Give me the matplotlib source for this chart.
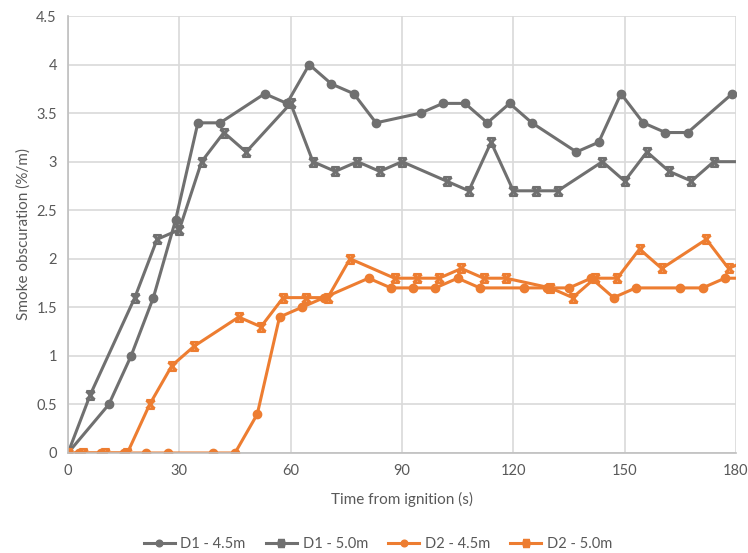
import matplotlib
matplotlib.use("Agg")
import matplotlib.pyplot as plt
from matplotlib.path import Path

plt.rcParams['font.family'] = ['Lato', 'DejaVu Sans']

# Data
t_d1_45 = [0, 11, 17, 23, 29, 35, 41, 53, 59, 65, 71, 77, 83, 95, 101, 107, 113, 119, 125, 137, 143, 149, 155, 161, 167, 179]
v_d1_45 = [0, 0.5, 1.0, 1.6, 2.4, 3.4, 3.4, 3.7, 3.6, 4.0, 3.8, 3.7, 3.4, 3.5, 3.6, 3.6, 3.4, 3.6, 3.4, 3.1, 3.2, 3.7, 3.4, 3.3, 3.3, 3.7]

t_d1_50 = [0, 6, 18, 24, 30, 36, 42, 48, 60, 66, 72, 78, 84, 90, 102, 108, 114, 120, 126, 132, 144, 150, 156, 162, 168, 174, 186]
v_d1_50 = [0, 0.6, 1.6, 2.2, 2.3, 3.0, 3.3, 3.1, 3.6, 3.0, 2.9, 3.0, 2.9, 3.0, 2.8, 2.7, 3.2, 2.7, 2.7, 2.7, 3.0, 2.8, 3.1, 2.9, 2.8, 3.0, 3.0]

t_d2_45 = [0, 3, 9, 15, 21, 27, 39, 45, 51, 57, 63, 69, 81, 87, 93, 99, 105, 111, 123, 129, 135, 141, 147, 153, 165, 171, 177, 183]
v_d2_45 = [0, 0, 0, 0, 0, 0, 0, 0, 0.4, 1.4, 1.5, 1.6, 1.8, 1.7, 1.7, 1.7, 1.8, 1.7, 1.7, 1.7, 1.7, 1.8, 1.6, 1.7, 1.7, 1.7, 1.8, 1.8]

t_d2_50 = [0, 4, 10, 16, 22, 28, 34, 46, 52, 58, 64, 70, 76, 88, 94, 100, 106, 112, 118, 130, 136, 142, 148, 154, 160, 172, 178, 184]
v_d2_50 = [0, 0, 0, 0, 0.5, 0.9, 1.1, 1.4, 1.3, 1.6, 1.6, 1.6, 2.0, 1.8, 1.8, 1.8, 1.9, 1.8, 1.8, 1.7, 1.6, 1.8, 1.8, 2.1, 1.9, 2.2, 1.9, 2.0]

labels = ["D1 - 4.5m", "D1 - 5.0m", "D2 - 4.5m", "D2 - 5.0m"]
x_ticks = [0, 30, 60, 90, 120, 150, 180]
y_ticks = [0, 0.5, 1, 1.5, 2, 2.5, 3, 3.5, 4, 4.5]
y_ticklabels = ["0", "0.5", "1", "1.5", "2", "2.5", "3", "3.5", "4", "4.5"]

gray = "#707070"
orange = "#ED7D31"
text_c = "#595959"

xm = Path([(-1, -1), (1, 1), (-1, 1), (1, -1), (-1, 1), (1, 1), (-1, -1), (1, -1)],
          [Path.MOVETO, Path.LINETO, Path.MOVETO, Path.LINETO,
           Path.MOVETO, Path.LINETO, Path.MOVETO, Path.LINETO])

fig = plt.figure(figsize=(7.48, 5.53), dpi=100)
ax = fig.add_axes([68/748, 1-453/553, (736-68)/748, (453-16)/553])

ax.plot(t_d1_45, v_d1_45, color=gray, lw=2.2, marker='o', ms=6, label=labels[0])
ax.plot(t_d1_50, v_d1_50, color=gray, lw=2.2, marker=xm, ms=6, mew=2, label=labels[1])
ax.plot(t_d2_45, v_d2_45, color=orange, lw=2.2, marker='o', ms=6, label=labels[2])
ax.plot(t_d2_50, v_d2_50, color=orange, lw=2.2, marker=xm, ms=6, mew=2, label=labels[3])

ax.set_xlim(0, 180)
ax.set_ylim(0, 4.5)
ax.set_xticks(x_ticks)
ax.set_yticks(y_ticks)
ax.set_yticklabels(y_ticklabels)
ax.grid(True, color="#d9d9d9", lw=1.2)
ax.set_axisbelow(True)
for s in ['top', 'right']:
    ax.spines[s].set_visible(False)
for s in ['left', 'bottom']:
    ax.spines[s].set_color("#bfbfbf")
    ax.spines[s].set_linewidth(1.2)
ax.tick_params(length=0, labelsize=10.5, labelcolor=text_c, pad=8)
ax.set_xlabel("Time from ignition (s)", fontsize=11, color=text_c, labelpad=10)
ax.set_ylabel("Smoke obscuration (%/m)", fontsize=11, color=text_c, labelpad=4)

leg = fig.legend(loc='center', bbox_to_anchor=(378/748, 1-544/553), ncol=4, frameon=False,
                 fontsize=10.5, labelcolor=text_c, handlelength=2.1, handletextpad=0.4,
                 columnspacing=1.4, markerscale=0.8)

fig.savefig("out.png", dpi=100)
